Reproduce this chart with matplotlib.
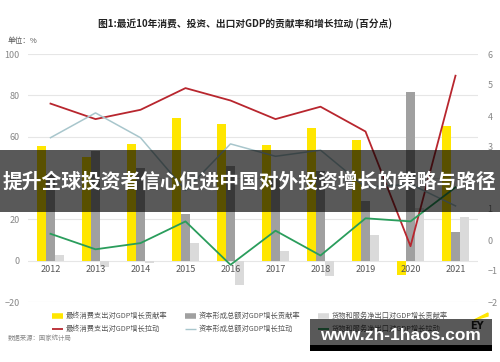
import matplotlib
matplotlib.use("Agg")
import matplotlib.pyplot as plt
import numpy as np
from matplotlib.lines import Line2D
from matplotlib.patches import Rectangle, Polygon

plt.rcParams['font.family'] = ['Noto Sans CJK SC', 'DejaVu Sans']

years = ['2012', '2013', '2014', '2015', '2016', '2017', '2018', '2019', '2020', '2021']
cons_rate = [55.4, 50.2, 56.3, 69.0, 66.0, 55.9, 64.0, 58.6, -6.8, 65.4]
cap_rate = [42.1, 53.1, 45.0, 22.6, 45.7, 39.5, 43.2, 28.9, 81.5, 13.7]
nx_rate = [2.5, -3.3, -1.3, 8.4, -11.7, 4.6, -7.2, 12.6, 25.3, 20.9]
cons_pull = [4.4, 3.9, 4.2, 4.9, 4.5, 3.9, 4.3, 3.5, -0.2, 5.3]
cap_pull = [3.3, 4.1, 3.3, 1.6, 3.1, 2.7, 2.9, 1.7, 1.8, 1.1]
nx_pull = [0.2, -0.3, -0.1, 0.6, -0.8, 0.3, -0.5, 0.7, 0.6, 1.7]

labels = ['最终消费支出对GDP增长贡献率', '资本形成总额对GDP增长贡献率', '货物和服务净出口对GDP增长贡献率',
          '最终消费支出对GDP增长拉动', '资本形成总额对GDP增长拉动', '货物和服务净出口对GDP增长拉动']
title = '图1:最近10年消费、投资、出口对GDP的贡献率和增长拉动 (百分点)'
banner = '提升全球投资者信心促进中国对外投资增长的策略与路径'
watermark = 'www.zh-1haos.com'

c_yellow = '#FFE600'
c_gray = '#A0A0A0'
c_light = '#DADADA'
c_red = '#B8262E'
c_blue = '#A8C6CC'
c_green = '#2A9D5C'

W, H = 500, 362
fig = plt.figure(figsize=(5.0, 3.62), dpi=100)
ax = fig.add_axes([28 / W, 1 - 302 / H, 450 / W, 248 / H])
ax2 = ax.twinx()

x = np.arange(len(years))
bw = 0.2
ax.bar(x - bw, cons_rate, bw, color=c_yellow, zorder=2)
ax.bar(x, cap_rate, bw, color=c_gray, zorder=2)
ax.bar(x + bw, nx_rate, bw, color=c_light, zorder=2)

ax.set_xlim(-0.5, 9.5)
ax.set_ylim(-20, 100)
ax.set_yticks(range(-20, 101, 20))
ax.grid(axis='y', color='#E6E6E6', linewidth=0.8, zorder=0)
ax.set_axisbelow(True)
ax.set_xticks([])
for s in ax.spines.values():
    s.set_visible(False)
ax.tick_params(axis='y', length=0, labelsize=6.5, labelcolor='#888888', pad=6)
for i, yr in enumerate(years):
    ax.text(i, -2.2, yr, ha='center', va='top', fontsize=6.5, color='#555555')

ax2.plot(x, cons_pull, color=c_red, lw=1.3, zorder=3)
ax2.plot(x, cap_pull, color=c_blue, lw=1.1, zorder=3)
ax2.plot(x, nx_pull, color=c_green, lw=1.3, zorder=3)
ax2.set_ylim(-2, 6)
ax2.set_yticks(range(-2, 7))
for s in ax2.spines.values():
    s.set_visible(False)
ax2.tick_params(axis='y', length=0, labelsize=6.5, labelcolor='#888888', pad=7)

fig.text(245 / W, 1 - 24 / H, title, ha='center', va='center', fontsize=7, fontweight='bold', color='#222222')
fig.text(8 / W, 1 - 41 / H, '单位：%', ha='left', va='center', fontsize=5.5, color='#555555')

# legend
handles = [
    (c_yellow, 4.0), (c_gray, 4.0), (c_light, 4.0),
    (c_red, 1.3), (c_blue, 1.0), (c_green, 1.3),
]
col_x = [52, 185, 318]
row_y = [316, 329]
for k, (lab, (col, lw)) in enumerate(zip(labels, handles)):
    r, c = divmod(k, 3)
    x0 = col_x[c]
    y0 = 1 - row_y[r] / H
    fig.add_artist(Line2D([x0 / W, (x0 + 11) / W], [y0, y0], color=col, lw=lw, transform=fig.transFigure,
                          solid_capstyle='butt'))
    fig.text((x0 + 14) / W, y0, lab, ha='left', va='center', fontsize=5.2, color='#555555')

fig.text(8 / W, 1 - 338 / H, '数据来源：国家统计局', ha='left', va='center', fontsize=4.6,
         color='#888888', style='italic')

# EY logo
fig.text(477 / W, 1 - 326 / H, 'EY', ha='center', va='center', fontsize=7, fontweight='bold', color='#222222',
         family=['DejaVu Sans'])
fig.add_artist(Polygon([[474 / W, 1 - 320 / H], [488 / W, 1 - 313 / H], [488 / W, 1 - 316 / H]],
                       closed=True, transform=fig.transFigure, color=c_yellow))

# overlay banner
fig.add_artist(Rectangle((0, 1 - 212 / H), 1, 62 / H, transform=fig.transFigure,
                         facecolor='black', alpha=0.65, edgecolor='none', zorder=10))
fig.text(249 / W, 1 - 182 / H, banner, ha='center', va='center', fontsize=14.2, fontweight='bold',
         color='white', zorder=11)

# watermark box
fig.add_artist(Rectangle((310 / W, 1 - 345 / H), 182 / W, 26 / H, transform=fig.transFigure,
                         facecolor='black', alpha=0.65, edgecolor='none', zorder=10))
fig.add_artist(Rectangle((310 / W, 1 - 351 / H), 182 / W, 6 / H, transform=fig.transFigure,
                         facecolor='black', edgecolor='none', zorder=10))
fig.text(400 / W, 1 - 335 / H, watermark, ha='center', va='center', fontsize=12.5, fontweight='bold',
         color='white', zorder=11, family=['Liberation Sans', 'DejaVu Sans'])

fig.savefig('out.png', dpi=100)
